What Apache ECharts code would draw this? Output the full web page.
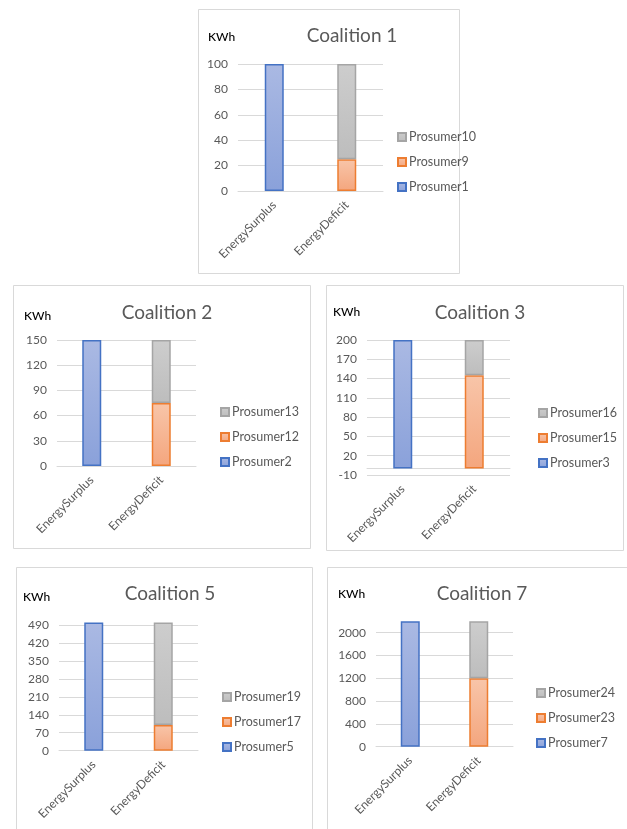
<!DOCTYPE html>
<html>
<head>
<meta charset="utf-8">
<style>
  html, body { margin: 0; padding: 0; background: #ffffff; }
  #chart { width: 627px; height: 829px; }
</style>
<script src="https://cdn.jsdelivr.net/npm/echarts@6/dist/echarts.min.js"></script>
</head>
<body>
<div id="chart"></div>
<script>
// Categories shared by every coalition panel
const categories = ['EnergySurplus', 'EnergyDeficit'];
const unitLabel = 'KWh';

// Coalition titles
const coalitionTitles = ['Coalition 1', 'Coalition 2', 'Coalition 3', 'Coalition 5', 'Coalition 7'];

// Prosumers per coalition: first one supplies the surplus, the others share the deficit
const c1Prosumers = ['Prosumer1', 'Prosumer9', 'Prosumer10'];
const c1Values = [100, 25, 75];
const c2Prosumers = ['Prosumer2', 'Prosumer12', 'Prosumer13'];
const c2Values = [150, 75, 75];
const c3Prosumers = ['Prosumer3', 'Prosumer15', 'Prosumer16'];
const c3Values = [200, 145, 55];
const c5Prosumers = ['Prosumer5', 'Prosumer17', 'Prosumer19'];
const c5Values = [500, 100, 400];
const c7Prosumers = ['Prosumer7', 'Prosumer23', 'Prosumer24'];
const c7Values = [2200, 1200, 1000];

// Value axis ranges: [min, max, tick step]
const c1Axis = [0, 100, 20];
const c2Axis = [0, 150, 30];
const c3Axis = [-10, 200, 30];
const c5Axis = [0, 500, 70];
const c7Axis = [0, 2200, 400];

const panels = [
  { title: coalitionTitles[0], names: c1Prosumers, values: c1Values, axis: c1Axis,
    box: [198.5, 9.5, 261, 264], grid: [238, 64, 145, 127], titleX: 347, titleY: 21, unitX: 208, unitY: 31, legend: [397, 130] },
  { title: coalitionTitles[1], names: c2Prosumers, values: c2Values, axis: c2Axis,
    box: [13.5, 285.5, 297, 263], grid: [57, 340, 139, 126], titleX: 162, titleY: 298, unitX: 24, unitY: 310, legend: [220, 405] },
  { title: coalitionTitles[2], names: c3Prosumers, values: c3Values, axis: c3Axis,
    box: [326.5, 285.5, 297, 265], grid: [367, 340, 143, 135], titleX: 475, titleY: 298, unitX: 333, unitY: 306, legend: [538, 406] },
  { title: coalitionTitles[3], names: c5Prosumers, values: c5Values, axis: c5Axis,
    box: [16.5, 567.5, 296, 300], grid: [59, 622.4, 139, 128.3], titleX: 165, titleY: 579, unitX: 23, unitY: 591, legend: [222, 690] },
  { title: coalitionTitles[4], names: c7Prosumers, values: c7Values, axis: c7Axis,
    box: [327.5, 567.5, 320, 300], grid: [376, 621.3, 137, 125.4], titleX: 477, titleY: 579, unitX: 338, unitY: 588, legend: [536, 686] }
];

const FONT = 'Lato, "Open Sans", sans-serif';
const TEXT_GREY = '#595959';
const GRID_GREY = '#d9d9d9';

function grad(top, bottom) {
  return new echarts.graphic.LinearGradient(0, 0, 0, 1, [
    { offset: 0, color: top }, { offset: 1, color: bottom }
  ]);
}
const seriesStyles = [
  { color: grad('#aab9e3', '#8aa1da'), borderColor: '#4472c4' },
  { color: grad('#f8c5a9', '#f4a67e'), borderColor: '#ed7d31' },
  { color: grad('#cdcdcd', '#bdbdbd'), borderColor: '#a5a5a5' }
];

const option = {
  backgroundColor: '#ffffff',
  animation: false,
  textStyle: { fontFamily: FONT },
  title: [], grid: [], xAxis: [], yAxis: [], legend: [], series: [], graphic: []
};

panels.forEach(function (p, i) {
  const onStep = ((p.axis[1] - p.axis[0]) % p.axis[2] === 0);
  option.graphic.push({
    type: 'rect', silent: true, z: -1,
    shape: { x: p.box[0], y: p.box[1], width: p.box[2], height: p.box[3] },
    style: { fill: '#ffffff', stroke: GRID_GREY, lineWidth: 1 }
  });
  option.graphic.push({
    type: 'text', left: p.unitX, top: p.unitY,
    style: { text: unitLabel, font: '500 12px ' + FONT, fill: '#000000' }
  });
  option.title.push({
    text: p.title, left: p.titleX, top: p.titleY, textAlign: 'center',
    textStyle: { color: TEXT_GREY, fontSize: 19, fontWeight: 'normal', fontFamily: FONT }
  });
  option.grid.push({ left: p.grid[0], top: p.grid[1], width: p.grid[2], height: p.grid[3], containLabel: false });
  option.xAxis.push({
    type: 'category', gridIndex: i, data: categories,
    axisLine: { lineStyle: { color: GRID_GREY } }, axisTick: { show: false },
    axisLabel: { rotate: 45, color: TEXT_GREY, fontSize: 12, margin: 12, fontFamily: FONT }
  });
  option.yAxis.push({
    type: 'value', gridIndex: i, min: p.axis[0], max: p.axis[1], interval: p.axis[2],
    axisLine: { show: false }, axisTick: { show: false },
    axisLabel: {
      color: TEXT_GREY, fontSize: 12, margin: 10, fontFamily: FONT,
      showMaxLabel: onStep, formatter: function (v) { return String(v); }
    },
    splitLine: { lineStyle: { color: GRID_GREY }, showMaxLine: onStep }
  });
  p.names.forEach(function (name, k) {
    const data = k === 0 ? [p.values[k], '-'] : ['-', p.values[k]];
    option.series.push({
      type: 'bar', name: name, xAxisIndex: i, yAxisIndex: i, stack: 'coal' + i,
      barWidth: 19, data: data,
      itemStyle: { color: seriesStyles[k].color, borderColor: seriesStyles[k].borderColor, borderWidth: 1.5 }
    });
  });
  option.legend.push({
    orient: 'vertical', left: p.legend[0], top: p.legend[1], padding: 0,
    data: p.names.slice().reverse().map(function (n) { return { name: n, icon: 'rect' }; }),
    itemWidth: 8, itemHeight: 8, itemGap: 11,
    textStyle: { color: TEXT_GREY, fontSize: 12.5, lineHeight: 14, fontFamily: FONT, padding: [0, 0, 0, -2] },
    selectedMode: false
  });
});

const chart = echarts.init(document.getElementById('chart'), null, { renderer: 'canvas' });
chart.setOption(option);
</script>
</body>
</html>
